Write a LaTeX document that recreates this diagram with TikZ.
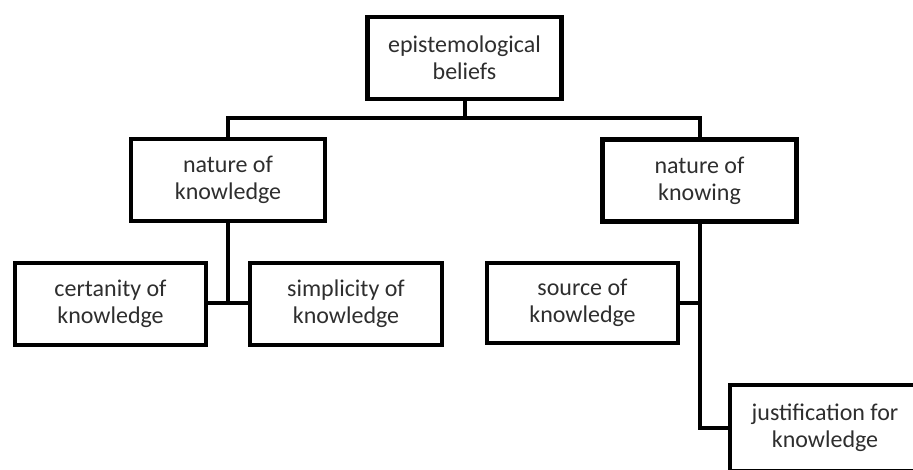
\documentclass[tikz,border=0pt]{standalone}
\usepackage{fontspec}
\setmainfont{Carlito}
\begin{document}
\begin{tikzpicture}[x=1pt,y=-1pt,
  box/.style={draw=black, line width=4.5pt, minimum width=194pt, minimum height=82pt,
    align=center, inner sep=0pt, font=\fontsize{24}{27}\selectfont, text=black!82},
  link/.style={draw=black, line width=4pt, line join=miter}]
\useasboundingbox (0,0) rectangle (913,469);
\clip (0,0) rectangle (913,469);
\node[box] (eb) at (464.5,58) {epistemological\\beliefs};
\node[box] (nk) at (228,180) {nature of\\knowledge};
\node[box] (nw) at (699.5,180.5) {nature of\\knowing};
\node[box, minimum width=191pt] (ck) at (110.5,304) {certanity of\\knowledge};
\node[box, minimum width=192pt] (sk) at (346,304) {simplicity of\\knowledge};
\node[box, minimum width=191pt, minimum height=80pt] (so) at (582.5,303) {source of\\knowledge};
\node[box, minimum width=190pt, minimum height=86pt] (jk) at (825,428) {justification for\\knowledge};
\coordinate (bus) at (464.5,118);
\coordinate (busL) at (228,118);
\coordinate (busR) at (699.5,118);
\coordinate (jL) at (228,303);
\coordinate (jR) at (699.5,303);
\draw[link] (eb.south) -- (bus);
\draw[link] (nk.north) -- (busL) -- (busR) -- (nw.north);
\draw[link] (nk.south) -- (jL);
\draw[link] (ck.east |- jL) -- (sk.west |- jL);
\draw[link] (nw.south) -- (nw.south |- jk.west) -- (jk.west);
\draw[link] (so.east |- jR) -- (jR);
\end{tikzpicture}
\end{document}
